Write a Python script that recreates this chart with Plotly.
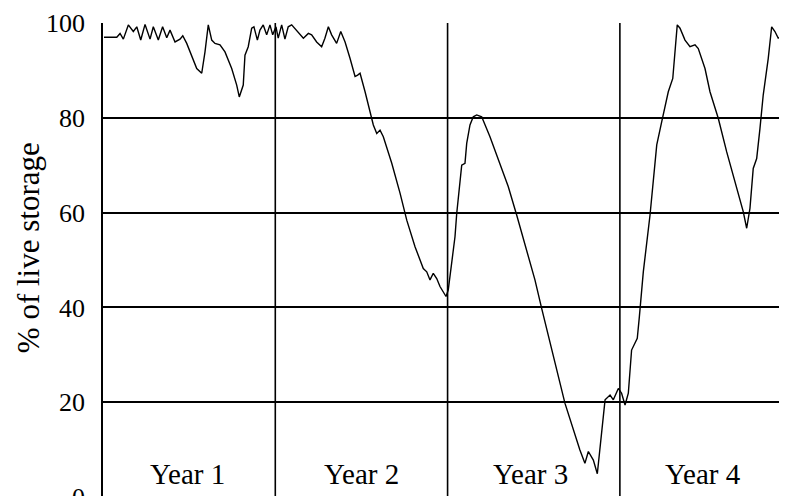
import plotly.graph_objects as go

# time in years since start of record
time_years = [0.006, 0.080, 0.099, 0.118, 0.147, 0.176, 0.196, 0.219, 0.244, 0.273,
              0.292, 0.321, 0.346, 0.370, 0.389, 0.418, 0.447, 0.463, 0.486, 0.515,
              0.544, 0.573, 0.592, 0.611, 0.631, 0.650, 0.679, 0.708, 0.747, 0.776,
              0.791, 0.814, 0.824, 0.843, 0.863, 0.876, 0.896, 0.911, 0.930, 0.950,
              0.969, 0.985, 1.004, 1.017, 1.037, 1.056, 1.075, 1.095, 1.124, 1.163,
              1.192, 1.211, 1.240, 1.269, 1.288, 1.308, 1.327, 1.356, 1.380, 1.405,
              1.434, 1.463, 1.478, 1.492, 1.521, 1.550, 1.569, 1.589, 1.608, 1.627,
              1.676, 1.724, 1.763, 1.811, 1.859, 1.879, 1.898, 1.917, 1.937, 1.956,
              1.975, 1.991, 2.004, 2.024, 2.043, 2.053, 2.072, 2.082, 2.101, 2.111,
              2.130, 2.149, 2.169, 2.198, 2.246, 2.304, 2.352, 2.401, 2.507, 2.546,
              2.613, 2.681, 2.768, 2.797, 2.817, 2.846, 2.869, 2.894, 2.914, 2.943,
              2.962, 2.991, 3.010, 3.030, 3.049, 3.068, 3.101, 3.113, 3.136, 3.175,
              3.214, 3.243, 3.281, 3.307, 3.320, 3.333, 3.349, 3.378, 3.407, 3.436,
              3.455, 3.494, 3.523, 3.571, 3.620, 3.678, 3.716, 3.736, 3.755, 3.774,
              3.794, 3.813, 3.832, 3.861, 3.881, 3.900, 3.919, 3.939, 3.958, 3.968]

# % of live storage
storage = [97.0, 97.0, 97.8, 96.6, 99.6, 98.2, 99.2, 96.4, 99.7, 96.6,
           99.2, 96.4, 99.2, 96.9, 98.5, 96.0, 96.6, 97.3, 95.7, 93.2,
           90.4, 89.4, 93.9, 99.6, 96.4, 95.7, 95.4, 93.9, 90.4, 86.9,
           84.4, 86.9, 93.2, 95.0, 98.9, 99.2, 96.4, 98.5, 99.6, 97.5,
           99.6, 97.5, 99.2, 96.8, 99.6, 96.6, 99.2, 99.6, 98.5, 96.8,
           97.8, 97.5, 96.0, 95.0, 96.8, 99.2, 97.5, 95.7, 98.2, 96.0,
           92.5, 88.7, 89.0, 89.4, 85.5, 81.3, 78.5, 76.7, 77.4, 76.0,
           70.4, 64.1, 58.4, 52.8, 48.2, 47.5, 45.8, 47.2, 46.1, 44.4,
           43.3, 42.3, 43.7, 49.3, 54.9, 59.8, 66.9, 70.0, 70.4, 74.6,
           78.5, 80.2, 80.6, 80.2, 76.0, 70.4, 65.5, 59.5, 45.8, 39.8,
           29.6, 19.8, 9.9, 7.1, 9.6, 7.8, 4.9, 13.4, 20.5, 21.5,
           20.5, 22.9, 21.9, 19.4, 21.9, 31.0, 33.5, 38.0, 47.5, 59.5,
           74.3, 79.2, 85.5, 88.3, 94.6, 99.6, 98.9, 96.4, 95.0, 95.4,
           94.6, 90.4, 85.5, 79.9, 72.8, 65.1, 60.2, 56.7, 60.9, 69.3,
           71.4, 77.7, 84.8, 92.5, 99.2, 98.2, 96.8, 97.1, 96.4, 97.8]

year_labels = ["Year 1", "Year 2", "Year 3", "Year 4"]
year_label_pos = [0.49, 1.5, 2.48, 3.48]
y_ticks = [0, 20, 40, 60, 80, 100]
year_bounds = [1, 2, 3]
y_title = "% of live storage"

FONT = "Liberation Serif, Times New Roman, serif"

fig = go.Figure()
fig.add_trace(go.Scatter(x=time_years, y=storage, mode="lines",
                         line=dict(color="black", width=1.4), hoverinfo="skip",
                         showlegend=False))

for xb in year_bounds:
    fig.add_vline(x=xb, line=dict(color="black", width=1.6), layer="below")

for lab, xp in zip(year_labels, year_label_pos):
    fig.add_annotation(x=xp, y=4.9, text=lab, showarrow=False,
                       font=dict(family=FONT, size=29, color="black"),
                       xanchor="center", yanchor="middle")

# y-axis title as rotated annotation
fig.add_annotation(xref="paper", x=0, xshift=-75, yref="y", y=52.5,
                   text=y_title, textangle=-90, showarrow=False,
                   xanchor="center", yanchor="middle",
                   font=dict(family=FONT, size=31, color="black"))

fig.update_layout(
    width=787, height=496,
    margin=dict(l=95, r=8, t=15, b=7, autoexpand=False),
    paper_bgcolor="white", plot_bgcolor="white",
    font=dict(family=FONT, color="black"),
    xaxis=dict(range=[0, 3.97], showgrid=False, zeroline=False,
               showticklabels=False, ticks="", showline=False, automargin=False),
    yaxis=dict(range=[0, 100], tickvals=y_ticks, showgrid=True,
               gridcolor="black", gridwidth=1.6, zeroline=False,
               showline=True, linecolor="black", linewidth=1.8,
               ticks="", ticklabelstandoff=11, automargin=False,
               ticklabeloverflow="allow",
               tickfont=dict(family=FONT, size=26, color="black")),
)

fig.write_html("out.html")
